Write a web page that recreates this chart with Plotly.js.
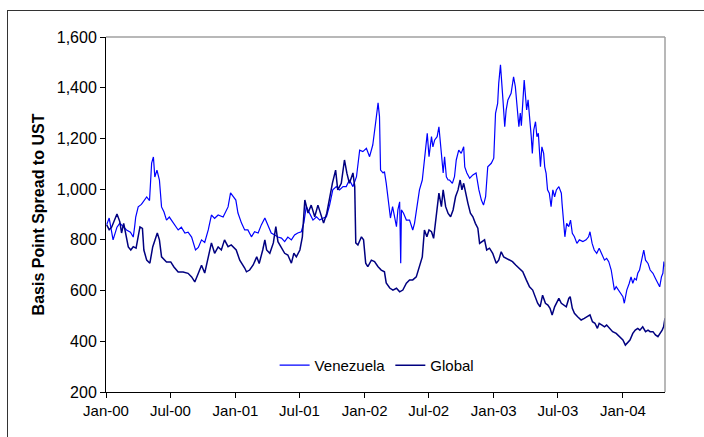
<!DOCTYPE html>
<html><head><meta charset="utf-8">
<script src="https://cdn.plot.ly/plotly-3.0.1.min.js"></script>
<style>
html,body{margin:0;padding:0;background:#fff;}
#wrap{position:relative;width:704px;height:437px;overflow:hidden;}
#chart{width:704px;height:437px;}
#frame{position:absolute;left:7px;top:10px;width:760px;height:500px;border-left:1px solid #333;border-top:1px solid #333;pointer-events:none;}
</style></head>
<body>
<div id="wrap"><div id="chart"></div><div id="frame"></div></div>
<script>
const tickVals = ['2000-01-01','2000-07-01','2001-01-01','2001-07-01','2002-01-01','2002-07-01','2003-01-01','2003-07-01','2004-01-01'];
const tickLabels = ['Jan-00','Jul-00','Jan-01','Jul-01','Jan-02','Jul-02','Jan-03','Jul-03','Jan-04'];

const venDates = ['2000-01-03','2000-01-10','2000-01-21','2000-02-01','2000-02-09','2000-02-20','2000-02-28','2000-03-10','2000-03-18','2000-03-22','2000-03-25','2000-04-01','2000-04-10','2000-04-25','2000-05-03','2000-05-09','2000-05-14','2000-05-18','2000-05-24','2000-05-31','2000-06-06','2000-06-13','2000-06-20','2000-06-28','2000-07-09','2000-07-23','2000-08-01','2000-08-11','2000-08-20','2000-08-30','2000-09-10','2000-09-18','2000-09-27','2000-10-06','2000-10-16','2000-10-25','2000-11-03','2000-11-13','2000-11-27','2000-12-11','2000-12-18','2000-12-26',
'2001-01-02','2001-01-08','2001-01-18','2001-01-27','2001-02-05','2001-02-15','2001-02-24','2001-03-06','2001-03-15','2001-03-25','2001-04-03','2001-04-12','2001-04-22','2001-05-01','2001-05-11','2001-05-20','2001-05-29','2001-06-08','2001-06-17','2001-06-26','2001-07-06','2001-07-13','2001-07-20','2001-07-30','2001-08-08','2001-08-18','2001-08-27','2001-09-05','2001-09-15','2001-09-24','2001-10-03','2001-10-13','2001-10-22','2001-11-01','2001-11-10','2001-11-19','2001-11-29','2001-12-09','2001-12-18','2001-12-27',
'2002-01-06','2002-01-15','2002-01-24','2002-02-01','2002-02-08','2002-02-12','2002-02-15','2002-02-22','2002-02-26','2002-03-03','2002-03-08','2002-03-15','2002-03-21','2002-03-27','2002-04-01','2002-04-05','2002-04-10','2002-04-13','2002-04-15','2002-04-21','2002-04-29','2002-05-08','2002-05-17','2002-05-22','2002-05-29','2002-06-05','2002-06-13','2002-06-18','2002-06-22','2002-06-27','2002-07-02','2002-07-09','2002-07-13','2002-07-18','2002-07-25','2002-07-30','2002-08-06','2002-08-11','2002-08-15','2002-08-20','2002-08-25','2002-08-29','2002-09-06','2002-09-12','2002-09-17','2002-09-24','2002-10-01','2002-10-08','2002-10-11','2002-10-17','2002-10-25','2002-11-03','2002-11-12','2002-11-20','2002-11-27','2002-12-03','2002-12-09','2002-12-15','2002-12-25',
'2003-01-01','2003-01-06','2003-01-12','2003-01-15','2003-01-20','2003-01-27','2003-02-01','2003-02-05','2003-02-10','2003-02-19','2003-02-26','2003-03-03','2003-03-07','2003-03-13','2003-03-17','2003-03-20','2003-03-28','2003-04-01','2003-04-04','2003-04-08','2003-04-12','2003-04-17','2003-04-20','2003-04-24','2003-04-29','2003-05-03','2003-05-07','2003-05-10','2003-05-13','2003-05-17','2003-05-22','2003-05-25','2003-05-29','2003-06-02','2003-06-07','2003-06-12','2003-06-17','2003-06-22','2003-06-27','2003-07-04','2003-07-11','2003-07-13','2003-07-17','2003-07-21','2003-07-26','2003-08-01','2003-08-06','2003-08-11','2003-08-17','2003-08-24','2003-08-31','2003-09-10','2003-09-19','2003-09-26','2003-09-30','2003-10-06','2003-10-12','2003-10-19','2003-10-26','2003-11-03','2003-11-10','2003-11-16','2003-11-22','2003-11-29','2003-12-03','2003-12-08','2003-12-13','2003-12-20','2003-12-27',
'2004-01-01','2004-01-05','2004-01-12','2004-01-19','2004-01-24','2004-01-29','2004-02-03','2004-02-08','2004-02-12','2004-02-17','2004-02-22','2004-02-29','2004-03-05','2004-03-12','2004-03-18','2004-03-26','2004-04-02','2004-04-09','2004-04-14','2004-04-19','2004-04-23','2004-04-26','2004-04-29'];
const venValues = [860,886,800,850,866,850,839,830,811,852,890,930,940,969,955,1103,1127,1048,1075,1036,930,910,878,890,866,839,850,827,830,811,760,770,800,790,839,898,885,898,890,930,985,970,
957,906,866,839,839,812,832,827,859,886,859,827,819,811,807,793,811,800,819,827,832,866,931,905,878,891,878,885,891,937,997,1010,997,1010,1010,1036,1010,1049,1154,1148,
1161,1128,1174,1261,1340,1286,1075,1064,1069,1024,957,886,931,885,852,918,950,708,918,905,878,878,839,865,931,997,1036,1115,1154,1220,1128,1207,1167,1194,1207,1246,1154,1064,1128,1049,1036,1036,1023,1049,1115,1154,1141,1167,1088,1064,1043,1056,1064,997,957,937,970,1088,1102,
1122,1299,1338,1417,1490,1352,1246,1312,1352,1378,1443,1404,1338,1246,1300,1250,1430,1378,1312,1352,1299,1207,1141,1233,1266,1207,1220,1154,1088,1167,1141,1088,1062,997,984,931,997,970,997,1010,984,944,891,812,865,852,878,826,812,786,800,793,800,812,832,786,760,747,767,740,720,727,714,681,642,602,615,602,589,
576,550,602,629,654,629,648,642,668,681,720,760,720,707,681,668,648,629,615,654,668,714,694];

const globDates = ['2000-01-03','2000-01-10','2000-01-17','2000-02-01','2000-02-09','2000-02-14','2000-02-20','2000-02-26','2000-03-04','2000-03-11','2000-03-18','2000-03-26','2000-04-01','2000-04-06','2000-04-13','2000-04-17','2000-04-25','2000-05-04','2000-05-12','2000-05-18','2000-05-25','2000-05-31','2000-06-06','2000-06-20','2000-07-02','2000-07-11','2000-07-23','2000-08-06','2000-08-20','2000-08-30','2000-09-08','2000-09-18','2000-09-27','2000-10-06','2000-10-16','2000-10-25','2000-11-03','2000-11-13','2000-11-22','2000-12-01','2000-12-11','2000-12-20',
'2001-01-03','2001-01-13','2001-01-27','2001-02-01','2001-02-10','2001-02-20','2001-03-02','2001-03-09','2001-03-19','2001-03-25','2001-03-30','2001-04-08','2001-04-18','2001-04-25','2001-05-01','2001-05-11','2001-05-20','2001-05-29','2001-06-08','2001-06-15','2001-06-22','2001-07-02','2001-07-09','2001-07-16','2001-07-25','2001-08-03','2001-08-13','2001-08-22','2001-09-01','2001-09-07','2001-09-16','2001-09-24','2001-10-02','2001-10-11','2001-10-17','2001-10-27','2001-11-05','2001-11-12','2001-11-19','2001-11-29','2001-12-04','2001-12-07','2001-12-13','2001-12-23','2001-12-29',
'2002-01-04','2002-01-10','2002-01-20','2002-01-29','2002-02-08','2002-02-17','2002-02-26','2002-03-03','2002-03-13','2002-03-22','2002-04-01','2002-04-10','2002-04-19','2002-04-29','2002-05-08','2002-05-17','2002-05-27','2002-06-05','2002-06-13','2002-06-19','2002-06-26','2002-07-02','2002-07-09','2002-07-15','2002-07-23','2002-07-30','2002-08-06','2002-08-11','2002-08-18','2002-08-25','2002-09-01','2002-09-08','2002-09-15','2002-09-22','2002-09-28','2002-10-03','2002-10-08','2002-10-13','2002-10-20','2002-10-27','2002-11-03','2002-11-10','2002-11-17','2002-11-22','2002-11-29','2002-12-06','2002-12-12','2002-12-20','2002-12-29',
'2003-01-08','2003-01-15','2003-01-22','2003-01-29','2003-02-05','2003-02-14','2003-02-23','2003-03-04','2003-03-15','2003-03-24','2003-04-03','2003-04-12','2003-04-21','2003-04-29','2003-05-05','2003-05-12','2003-05-19','2003-05-27','2003-06-03','2003-06-09','2003-06-15','2003-06-22','2003-06-28','2003-07-04','2003-07-11','2003-07-17','2003-07-25','2003-08-01','2003-08-05','2003-08-11','2003-08-17','2003-08-26','2003-09-05','2003-09-14','2003-09-23','2003-09-30','2003-10-07','2003-10-14','2003-10-21','2003-10-26','2003-11-03','2003-11-10','2003-11-16','2003-11-24','2003-12-03','2003-12-13','2003-12-22',
'2004-01-01','2004-01-08','2004-01-15','2004-01-21','2004-01-29','2004-02-05','2004-02-12','2004-02-18','2004-02-26','2004-03-05','2004-03-12','2004-03-18','2004-03-26','2004-04-02','2004-04-09','2004-04-16','2004-04-21','2004-04-25','2004-04-29'];
const globValues = [859,840,850,902,872,827,865,827,772,760,773,767,811,851,845,760,720,708,772,800,827,800,733,713,713,693,673,673,668,654,634,668,700,669,728,788,747,772,760,800,773,780,
760,720,689,674,681,701,733,707,760,800,760,747,788,852,793,768,747,740,708,747,733,760,812,957,906,937,891,937,891,866,905,970,1024,1075,997,1023,1115,1062,1023,1064,1010,788,780,812,800,
708,694,720,714,694,681,674,630,610,602,609,595,602,629,642,642,654,694,733,839,812,839,832,806,891,984,931,997,931,904,891,918,970,997,1036,997,1023,984,944,905,891,865,846,786,793,800,760,767,747,
708,720,753,733,727,720,714,701,688,674,642,615,602,569,550,536,582,550,543,530,504,536,550,569,550,543,536,569,576,530,510,497,484,490,497,504,477,471,451,471,464,457,464,451,438,431,418,
405,385,398,405,431,444,451,444,457,438,444,438,438,425,418,431,444,457,491];

const traces = [
  {type:'scatter', mode:'lines', name:'Venezuela', x:venDates, y:venValues, line:{color:'#0000ff', width:1.2}},
  {type:'scatter', mode:'lines', name:'Global', x:globDates, y:globValues, line:{color:'#000080', width:1.5}}
];

const layout = {
  width:704, height:437,
  margin:{l:106, r:39, t:37, b:45},
  paper_bgcolor:'#ffffff', plot_bgcolor:'#ffffff',
  font:{family:'"Liberation Sans", Arial, sans-serif', size:15, color:'#000'},
  showlegend:true,
  legend:{orientation:'h', x:0.485, y:0.075, xanchor:'center', yanchor:'middle', bgcolor:'rgba(0,0,0,0)', font:{size:15, color:'#000'}, itemwidth:30, tracegroupgap:0},
  xaxis:{type:'date', range:['2000-01-01','2004-04-29'], tickmode:'array', tickvals:tickVals, ticktext:tickLabels,
    ticks:'outside', ticklen:5, tickcolor:'#000', tickwidth:1, showline:true, linecolor:'#000', linewidth:1,
    showgrid:false, zeroline:false, tickfont:{size:15, color:'#000'}},
  yaxis:{range:[200,1600], tickmode:'linear', tick0:200, dtick:200, tickformat:',d',
    ticks:'outside', ticklen:5, tickcolor:'#000', tickwidth:1, showline:true, linecolor:'#000', linewidth:1,
    showgrid:false, zeroline:false, tickfont:{size:16, color:'#000'},
    title:{text:'<b>Basis Point Spread to UST</b>', font:{size:16, color:'#000'}, standoff:8}},
  shapes:[
    {type:'line', xref:'paper', yref:'paper', x0:0, x1:1, y0:1, y1:1, line:{color:'#a0a0a0', width:1.5}},
    {type:'line', xref:'paper', yref:'paper', x0:1, x1:1, y0:0, y1:1, line:{color:'#a0a0a0', width:1.5}}
  ]
};

Plotly.newPlot('chart', traces, layout, {staticPlot:true, displayModeBar:false});
</script>
</body></html>
